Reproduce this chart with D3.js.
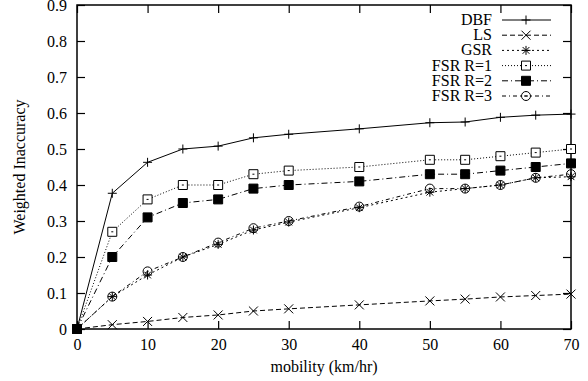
<!doctype html>
<html>
<head>
<meta charset="utf-8">
<title>Weighted Inaccuracy vs mobility</title>
<script src="https://cdn.jsdelivr.net/npm/d3@7"></script>
<style>
  body { margin: 0; background: #fff; }
  svg text { font-family: "Liberation Serif", "DejaVu Serif", serif; fill: #000; }
</style>
</head>
<body>
<div id="chart"></div>
<script>
// data
const mobility = [0, 5, 10, 15, 20, 25, 30, 40, 50, 55, 60, 65, 70];
const dbf  = [0, 0.377, 0.463, 0.50, 0.508, 0.531, 0.541, 0.556, 0.573, 0.575, 0.588, 0.594, 0.597];
const ls   = [0, 0.012, 0.021, 0.032, 0.039, 0.050, 0.056, 0.067, 0.078, 0.083, 0.089, 0.093, 0.097];
const gsr  = [0, 0.09, 0.15, 0.20, 0.235, 0.275, 0.297, 0.337, 0.38, 0.39, 0.40, 0.42, 0.423];
const fsr1 = [0, 0.27, 0.36, 0.40, 0.40, 0.43, 0.44, 0.45, 0.47, 0.47, 0.48, 0.49, 0.50];
const fsr2 = [0, 0.20, 0.31, 0.35, 0.36, 0.39, 0.40, 0.41, 0.43, 0.43, 0.44, 0.45, 0.46];
const fsr3 = [0, 0.09, 0.16, 0.20, 0.24, 0.28, 0.30, 0.34, 0.39, 0.39, 0.40, 0.42, 0.43];
const xTicks = [0, 10, 20, 30, 40, 50, 60, 70];
const yTicks = [0, 0.1, 0.2, 0.3, 0.4, 0.5, 0.6, 0.7, 0.8, 0.9];

const series = [
  { name: 'DBF', values: dbf, dash: null, marker: 'plus' },
  { name: 'LS', values: ls, dash: '5,3', marker: 'cross' },
  { name: 'GSR', values: gsr, dash: '2,3', marker: 'star' },
  { name: 'FSR R=1', values: fsr1, dash: '1,2', marker: 'box' },
  { name: 'FSR R=2', values: fsr2, dash: '6,3,1,3', marker: 'boxfill' },
  { name: 'FSR R=3', values: fsr3, dash: '4,3,1,3', marker: 'circle' }
];

const W = 588, H = 381;
const margin = { top: 5, right: 17, bottom: 52, left: 77 };
const width = W - margin.left - margin.right;
const height = H - margin.top - margin.bottom;

const svg = d3.select('#chart').append('svg')
  .attr('width', W)
  .attr('height', H);

const g = svg.append('g')
  .attr('transform', 'translate(' + margin.left + ',' + margin.top + ')');

const x = d3.scaleLinear().domain([0, 70]).range([0, width]);
const y = d3.scaleLinear().domain([0, 0.9]).range([height, 0]);

// frame ticks (gnuplot style: inward, mirrored)
const tickLen = 8;
const fmtY = d => d === 0 ? '0' : d3.format('.1f')(d);

g.append('g')
  .attr('transform', 'translate(0,' + height + ')')
  .call(d3.axisBottom(x).tickValues(xTicks).tickSize(-tickLen).tickPadding(10).tickFormat(d3.format('d')))
  .call(a => a.select('.domain').remove())
  .call(a => a.selectAll('text').attr('font-size', 16).attr('font-family', '"Liberation Serif", serif'));

g.append('g')
  .call(d3.axisTop(x).tickValues(xTicks).tickSize(-tickLen).tickFormat(''))
  .call(a => a.select('.domain').remove());

g.append('g')
  .call(d3.axisLeft(y).tickValues(yTicks).tickSize(-tickLen).tickPadding(10).tickFormat(fmtY))
  .call(a => a.select('.domain').remove())
  .call(a => a.selectAll('text').attr('font-size', 16).attr('font-family', '"Liberation Serif", serif'));

g.append('g')
  .attr('transform', 'translate(' + width + ',0)')
  .call(d3.axisRight(y).tickValues(yTicks).tickSize(-tickLen).tickFormat(''))
  .call(a => a.select('.domain').remove());

g.selectAll('.tick line').attr('stroke', '#000').attr('stroke-width', 1.2);

g.append('rect')
  .attr('width', width)
  .attr('height', height)
  .attr('fill', 'none')
  .attr('stroke', '#000')
  .attr('stroke-width', 1.5);

// axis titles
svg.append('text')
  .attr('x', margin.left + width / 2)
  .attr('y', 372)
  .attr('text-anchor', 'middle')
  .attr('font-size', 16)
  .text('mobility (km/hr)');

svg.append('text')
  .attr('transform', 'translate(25,' + (margin.top + height / 2) + ') rotate(-90)')
  .attr('text-anchor', 'middle')
  .attr('font-size', 16)
  .text('Weighted Inaccuracy');

// marker shapes
function drawMarker(sel, type, cx, cy) {
  const r = 4.5;
  const m = sel.append('g').attr('transform', 'translate(' + cx + ',' + cy + ')');
  const p = d => m.append('path').attr('d', d)
    .attr('stroke', '#000').attr('stroke-width', 1).attr('fill', 'none');
  if (type === 'plus') p(`M${-r},0H${r}M0,${-r}V${r}`);
  if (type === 'cross') p(`M${-r},${-r}L${r},${r}M${-r},${r}L${r},${-r}`);
  if (type === 'star') p(`M${-r},0H${r}M0,${-r}V${r}M${-r * 0.75},${-r * 0.75}L${r * 0.75},${r * 0.75}M${-r * 0.75},${r * 0.75}L${r * 0.75},${-r * 0.75}`);
  if (type === 'box') {
    p(`M${-r},${-r}H${r}V${r}H${-r}Z`).attr('fill', '#fff');
    p('M-1,0H1');
  }
  if (type === 'boxfill') p(`M${-r},${-r}H${r}V${r}H${-r}Z`).attr('fill', '#000');
  if (type === 'circle') {
    m.append('circle').attr('r', r).attr('fill', 'none').attr('stroke', '#000');
    m.append('circle').attr('r', 0.8).attr('fill', '#000');
  }
}

const line = d3.line().x(d => x(d[0])).y(d => y(d[1]));

series.forEach(s => {
  const pts = mobility.map((m, i) => [m, s.values[i]]);
  g.append('path')
    .datum(pts)
    .attr('d', line)
    .attr('fill', 'none')
    .attr('stroke', '#000')
    .attr('stroke-width', 1)
    .attr('stroke-dasharray', s.dash);
  const mk = g.append('g');
  pts.forEach(p => drawMarker(mk, s.marker, x(p[0]), y(p[1])));
});

// legend
const legend = svg.append('g');
series.forEach((s, i) => {
  const by = 25 + i * 15.2;
  const cy = by - 5;
  legend.append('text')
    .attr('x', 492)
    .attr('y', by)
    .attr('text-anchor', 'end')
    .attr('font-size', 16)
    .text(s.name);
  legend.append('line')
    .attr('x1', 502).attr('x2', 551)
    .attr('y1', cy).attr('y2', cy)
    .attr('stroke', '#000')
    .attr('stroke-width', 1)
    .attr('stroke-dasharray', s.dash);
  drawMarker(legend, s.marker, 526, cy);
});
</script>
</body>
</html>
